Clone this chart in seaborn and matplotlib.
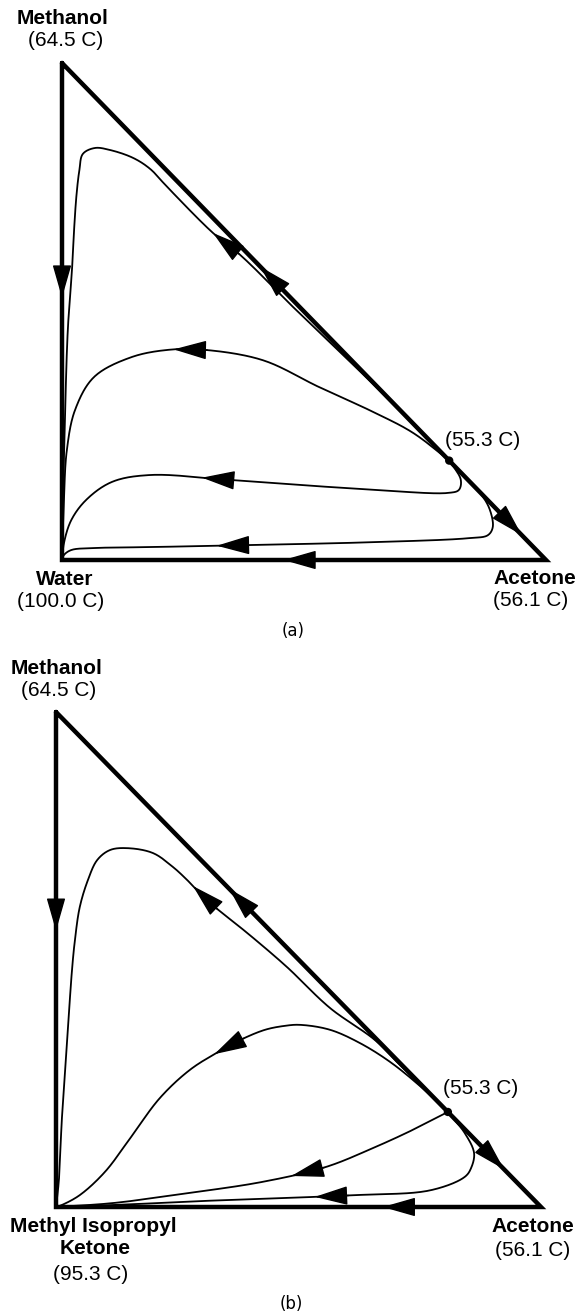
import numpy as np
import pandas as pd
import matplotlib
matplotlib.use("Agg")
import matplotlib.pyplot as plt
import seaborn as sns

# 坐标：x = 丙酮摩尔分数, y = 甲醇摩尔分数, (0,0) 为重组分顶点
# ---------------- (a) Methanol / Acetone / Water ----------------
azeo_a = [0.80, 0.20]
a1_x = [0.802, 0.647, 0.490, 0.368, 0.312, 0.217, 0.182, 0.147, 0.099, 0.068, 0.043, 0.036, 0.030, 0.025, 0.021, 0.012, 0.006, 0.002, 0.0]
a1_y = [0.199, 0.350, 0.497, 0.614, 0.658, 0.751, 0.787, 0.809, 0.825, 0.829, 0.817, 0.785, 0.735, 0.665, 0.590, 0.463, 0.282, 0.121, 0.0]
a2_x = [0.802, 0.725, 0.647, 0.531, 0.415, 0.293, 0.221, 0.143, 0.066, 0.027, 0.010, 0.004, 0.0]
a2_y = [0.199, 0.256, 0.296, 0.348, 0.402, 0.423, 0.423, 0.408, 0.368, 0.302, 0.221, 0.121, 0.0]
a3_x = [0.802, 0.824, 0.820, 0.798, 0.647, 0.492, 0.345, 0.182, 0.103, 0.050, 0.019, 0.004, 0.0]
a3_y = [0.199, 0.161, 0.141, 0.135, 0.141, 0.151, 0.161, 0.171, 0.157, 0.121, 0.080, 0.034, 0.0]
a4_x = [0.802, 0.864, 0.884, 0.890, 0.880, 0.841, 0.647, 0.384, 0.182, 0.066, 0.019, 0.004, 0.0]
a4_y = [0.199, 0.135, 0.101, 0.066, 0.050, 0.044, 0.036, 0.030, 0.026, 0.024, 0.020, 0.010, 0.0]
# 箭头位置 (曲线名, 箭头尖端)
arrows_a = [("left", (0.0, 0.53)), ("hyp_up", (0.41, 0.59)), ("hyp_down", (0.95, 0.05)),
            ("bottom", (0.457, 0.0)), ("c1", (0.312, 0.658)), ("c2", (0.231, 0.423)),
            ("c3", (0.287, 0.164)), ("c4", (0.318, 0.030))]

# ---------------- (b) Methanol / Acetone / MIPK ----------------
azeo_b = [0.808, 0.192]
b1_x = [0.808, 0.709, 0.658, 0.565, 0.476, 0.400, 0.311, 0.270, 0.241, 0.200, 0.146, 0.111, 0.085, 0.066, 0.049, 0.039, 0.033, 0.023, 0.012, 0.006, 0.0]
b1_y = [0.192, 0.287, 0.337, 0.402, 0.485, 0.549, 0.620, 0.661, 0.687, 0.715, 0.725, 0.721, 0.701, 0.661, 0.606, 0.539, 0.479, 0.337, 0.176, 0.055, 0.0]
b2_x = [0.808, 0.751, 0.689, 0.627, 0.565, 0.503, 0.472, 0.431, 0.379, 0.334, 0.276, 0.214, 0.153, 0.101, 0.049, 0.012, 0.0]
b2_y = [0.192, 0.244, 0.293, 0.331, 0.358, 0.368, 0.366, 0.358, 0.337, 0.313, 0.277, 0.220, 0.139, 0.071, 0.024, 0.004, 0.0]
b3_x = [0.808, 0.736, 0.658, 0.557, 0.427, 0.272, 0.118, 0.0]
b3_y = [0.192, 0.156, 0.121, 0.081, 0.051, 0.028, 0.008, 0.0]
b4_x = [0.808, 0.843, 0.862, 0.856, 0.843, 0.773, 0.619, 0.348, 0.118, 0.0]
b4_y = [0.192, 0.149, 0.109, 0.079, 0.061, 0.034, 0.024, 0.014, 0.004, 0.0]
arrows_b = [("left", (0.0, 0.56)), ("hyp_up", (0.359, 0.641)), ("hyp_down", (0.924, 0.076)),
            ("bottom", (0.674, 0.0)), ("c1", (0.287, 0.653)), ("c2", (0.326, 0.311)),
            ("c3", (0.485, 0.062)), ("c4", (0.534, 0.021))]

W, H = 586, 1316


def smooth(xs, ys, n=30, alpha=0.5):
    # 向心 Catmull-Rom 平滑，仅用于画线
    p = np.column_stack([xs, ys]).astype(float)
    p = np.vstack([2 * p[0] - p[1], p, 2 * p[-1] - p[-2]])
    out = []
    for i in range(1, len(p) - 2):
        P0, P1, P2, P3 = p[i - 1], p[i], p[i + 1], p[i + 2]
        t0 = 0.0
        t1 = t0 + np.linalg.norm(P1 - P0) ** alpha
        t2 = t1 + np.linalg.norm(P2 - P1) ** alpha
        t3 = t2 + np.linalg.norm(P3 - P2) ** alpha
        t = np.linspace(t1, t2, n, endpoint=False)[:, None]
        A1 = (t1 - t) / (t1 - t0) * P0 + (t - t0) / (t1 - t0) * P1
        A2 = (t2 - t) / (t2 - t1) * P1 + (t - t1) / (t2 - t1) * P2
        A3 = (t3 - t) / (t3 - t2) * P2 + (t - t2) / (t3 - t2) * P3
        B1 = (t2 - t) / (t2 - t0) * A1 + (t - t0) / (t2 - t0) * A2
        B2 = (t3 - t) / (t3 - t1) * A2 + (t - t1) / (t3 - t1) * A3
        out.append((t2 - t) / (t2 - t1) * B1 + (t - t1) / (t2 - t1) * B2)
    out.append(p[-2][None, :])
    r = np.vstack(out)
    return r[:, 0], r[:, 1]


def draw_arrow(ax, xs, ys, tip, back=34):
    pts = ax.transData.transform(np.column_stack([xs, ys]))
    tp = ax.transData.transform(tip)
    i = int(np.argmin(np.hypot(*(pts - tp).T)))
    s = np.concatenate([[0], np.cumsum(np.hypot(*np.diff(pts, axis=0).T))])
    j = max(int(np.searchsorted(s, s[i] - back)), 0)
    tail = ax.transData.inverted().transform(pts[j])
    ax.annotate('', xy=(xs[i], ys[i]), xytext=tail,
                arrowprops=dict(arrowstyle='-|>,head_length=1.05,head_width=0.3',
                                mutation_scale=20, color='black', lw=1,
                                shrinkA=0, shrinkB=0))


def panel(ax, curves, azeo, arrows):
    ax.set_xlim(0, 1)
    ax.set_ylim(0, 1)
    ax.axis('off')
    # 三角形边
    sns.lineplot(x=[0, 0, 1, 0], y=[1, 0, 0, 1], sort=False, estimator=None,
                 color='black', lw=3.2, ax=ax, solid_joinstyle='miter', clip_on=False)
    line = np.linspace(0, 1, 200)
    paths = {
        "left": (np.zeros_like(line), 1 - line),
        "bottom": (1 - line, np.zeros_like(line)),
        "hyp_up": (np.linspace(azeo[0], 0, 200), np.linspace(azeo[1], 1, 200)),
        "hyp_down": (np.linspace(azeo[0], 1, 200), np.linspace(azeo[1], 0, 200)),
    }
    for k, (cx, cy) in enumerate(curves):
        sx, sy = smooth(cx, cy)
        sns.lineplot(x=sx, y=sy, sort=False, estimator=None, color='black', lw=1.3,
                     ax=ax, clip_on=False)
        paths["c%d" % (k + 1)] = (sx, sy)
    sns.scatterplot(x=[azeo[0]], y=[azeo[1]], color='black', s=36, ax=ax,
                    zorder=5, clip_on=False, edgecolor='none')
    for name, tip in arrows:
        draw_arrow(ax, paths[name][0], paths[name][1], tip)


sns.set_style("white")
plt.rcParams['font.family'] = ['Liberation Sans', 'DejaVu Sans']
plt.rcParams['text.color'] = 'black'

fig = plt.figure(figsize=(W / 100, H / 100), dpi=100)
ax_a = fig.add_axes([62 / W, 1 - 560 / H, 484 / W, 497 / H])
ax_b = fig.add_axes([56 / W, 1 - 1207 / H, 485 / W, 495 / H])

panel(ax_a, [(a1_x, a1_y), (a2_x, a2_y), (a3_x, a3_y), (a4_x, a4_y)], azeo_a, arrows_a)
panel(ax_b, [(b1_x, b1_y), (b2_x, b2_y), (b3_x, b3_y), (b4_x, b4_y)], azeo_b, arrows_b)


def label(px, py, s, bold=False, size=15, **kw):
    fig.text(px / W, 1 - py / H, s, ha='center', va='center', fontsize=size,
             fontweight='bold' if bold else 'normal', color='black', **kw)


# (a)
label(63, 18, "Methanol", bold=True)
label(66, 41, "(64.5 C)")
label(65, 580, "Water", bold=True)
label(61, 602, "(100.0 C)")
label(535, 579, "Acetone", bold=True)
label(531, 601, "(56.1 C)")
label(483, 441, "(55.3 C)")
label(293, 631, "(a)", size=12, family=['Liberation Sans Narrow', 'DejaVu Sans'])
# (b)
label(57, 669, "Methanol", bold=True)
label(59, 690, "(64.5 C)")
label(93, 1227, "Methyl Isopropyl", bold=True)
label(95, 1249, "Ketone", bold=True)
label(91, 1274, "(95.3 C)")
label(533, 1227, "Acetone", bold=True)
label(533, 1250, "(56.1 C)")
label(481, 1088, "(55.3 C)")
label(291, 1304, "(b)", size=12, family=['Liberation Sans Narrow', 'DejaVu Sans'])

fig.savefig("out.png", dpi=100)
